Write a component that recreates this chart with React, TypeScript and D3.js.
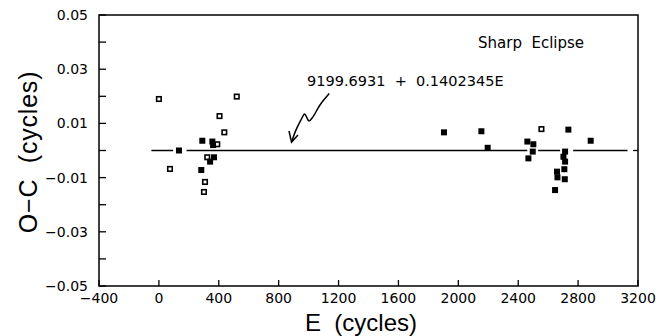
import React from "react";
import * as d3 from "d3";

const openE = [0, 74, 308, 301, 323, 390, 405, 437, 520, 2555];
const openOC = [0.019, -0.0068, -0.0116, -0.0153, -0.0025, 0.0023, 0.0127, 0.0067, 0.0199, 0.0079];

const filledE = [134, 290, 283, 357, 362, 368, 342, 1904, 2154, 2196, 2461, 2501, 2497, 2468, 2735, 2884, 2713, 2702, 2713, 2708, 2659, 2662, 2711, 2646];
const filledOC = [0.0, 0.0036, -0.0072, 0.0033, 0.002, -0.0025, -0.0041, 0.0067, 0.0071, 0.001, 0.0033, 0.0023, -0.0004, -0.0029, 0.0077, 0.0036, -0.0004, -0.0023, -0.0041, -0.0069, -0.0078, -0.0099, -0.0106, -0.0146];

const fitSegments: [number, number][] = [[-50, 95], [185, 2460], [2533, 2680], [2767, 3130]];

const arrowE = [1138, 1076, 1029, 1003, 983, 973, 949, 916, 886];
const arrowOC = [0.021, 0.0168, 0.0124, 0.0109, 0.0127, 0.0135, 0.0113, 0.0076, 0.0031];
const barbE = [869, 886, 929];
const barbOC = [0.0072, 0.0031, 0.0057];

const xTicks = [-400, 0, 400, 800, 1200, 1600, 2000, 2400, 2800, 3200];
const yTicks = [-0.05, -0.04, -0.03, -0.02, -0.01, 0, 0.01, 0.02, 0.03, 0.04, 0.05];
const yLabels = [-0.05, -0.03, -0.01, 0.01, 0.03, 0.05];

const W = 671, H = 336;
const L = 99, R = 638, T = 15, B = 286;

export default function App() {
  const x = d3.scaleLinear().domain([-400, 3200]).range([L, R]);
  const y = d3.scaleLinear().domain([-0.05, 0.05]).range([B, T]);
  const font = "'DejaVu Sans', sans-serif";
  const titleFont = "'Liberation Sans', Arial, sans-serif";
  const line = d3.line<[number, number]>().x(d => x(d[0])).y(d => y(d[1])).curve(d3.curveCatmullRom);
  const arrowPts: [number, number][] = arrowE.map((e, i) => [e, arrowOC[i]]);
  const barbPts: [number, number][] = barbE.map((e, i) => [e, barbOC[i]]);
  const lin = d3.line<[number, number]>().x(d => x(d[0])).y(d => y(d[1]));
  const s = 6;
  return (
    <svg width={W} height={H} style={{ position: "absolute", left: 0, top: 0, background: "#fff" }}>
      <rect x={0} y={0} width={W} height={H} fill="#fff" />
      <rect x={L} y={T} width={R - L} height={B - T} fill="none" stroke="#000" strokeWidth={1.5} />
      {yTicks.map((t, i) => (
        <line key={"yt" + i} x1={L} x2={L + 7} y1={y(t)} y2={y(t)} stroke="#000" strokeWidth={1.3} />
      ))}
      <line x1={R} x2={R - 5} y1={y(0)} y2={y(0)} stroke="#000" strokeWidth={1.3} />
      {yLabels.map((t, i) => (
        <text key={"yl" + i} x={L - 11} y={y(t)} dy="0.36em" textAnchor="end" fontFamily={font} fontSize={14} fill="#000">
          {t < 0 ? "\u2212" + Math.abs(t).toFixed(2) : t.toFixed(2)}
        </text>
      ))}
      {xTicks.map((t, i) => (
        <g key={"xt" + i}>
          <line x1={x(t)} x2={x(t)} y1={B} y2={B - 6} stroke="#000" strokeWidth={1.3} />
          <text x={x(t)} y={B + 17} textAnchor="middle" fontFamily={font} fontSize={14} fill="#000">
            {t < 0 ? "\u2212" + Math.abs(t) : String(t)}
          </text>
        </g>
      ))}
      <text x={361} y={331} textAnchor="middle" fontFamily={titleFont} fontSize={24} fill="#000" style={{ whiteSpace: "pre" }}>E  (cycles)</text>
      <text transform={`translate(37, 152) rotate(-90)`} textAnchor="middle" fontFamily={titleFont} fontSize={25} letterSpacing={0.8} fill="#000" style={{ whiteSpace: "pre" }}>O{"\u2212"}C  (cycles)</text>
      {fitSegments.map((sg, i) => (
        <line key={"fs" + i} x1={x(sg[0])} x2={x(sg[1])} y1={y(0)} y2={y(0)} stroke="#000" strokeWidth={1.5} />
      ))}
      {openE.map((e, i) => (
        <rect key={"o" + i} x={x(e) - s / 2 + 0.75} y={y(openOC[i]) - s / 2 + 0.75} width={s - 1.5} height={s - 1.5} fill="#fff" stroke="#000" strokeWidth={1.6} />
      ))}
      {filledE.map((e, i) => (
        <rect key={"f" + i} x={x(e) - s / 2} y={y(filledOC[i]) - s / 2} width={s} height={s} fill="#000" />
      ))}
      <path d={line(arrowPts) || ""} fill="none" stroke="#000" strokeWidth={1.5} />
      <path d={lin(barbPts) || ""} fill="none" stroke="#000" strokeWidth={1.5} />
      <text x={307} y={86} fontFamily={font} fontSize={14.5} fill="#000" style={{ whiteSpace: "pre" }}>9199.6931  +  0.1402345E</text>
      <text x={478} y={48} fontFamily={font} fontSize={15} fill="#000" style={{ whiteSpace: "pre" }}>Sharp  Eclipse</text>
    </svg>
  );
}
